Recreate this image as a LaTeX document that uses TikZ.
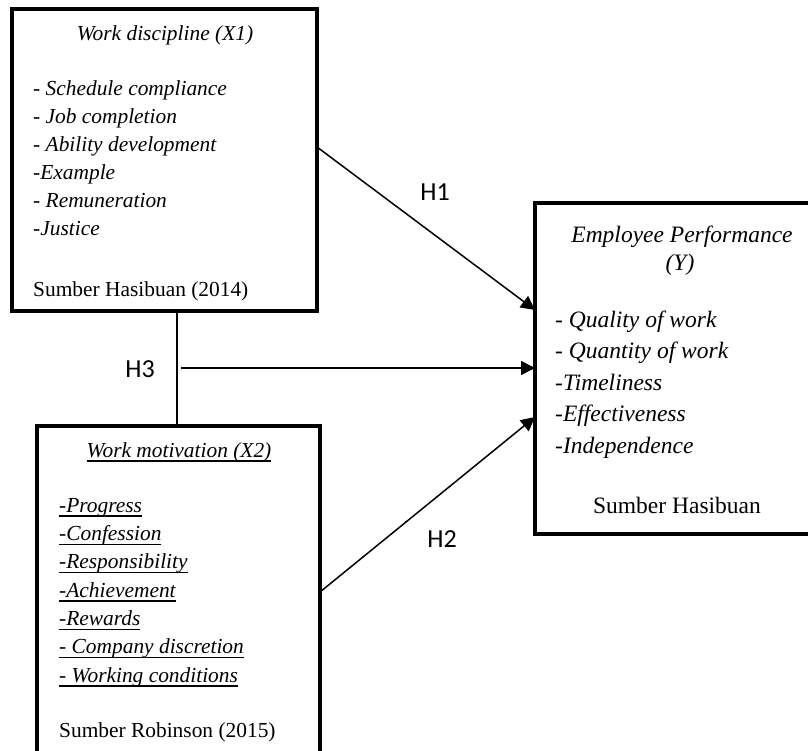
\documentclass[tikz,border=0pt]{standalone}
\usepackage{fontspec}
\setmainfont{Liberation Serif}
\newfontfamily\calibri{Carlito}
\usetikzlibrary{arrows.meta}
\newcommand\myul[1]{\setbox0\hbox{#1}\rlap{\usebox0}\rule[-4.5pt]{\wd0}{1.1pt}}
\tikzset{
  box/.style={draw, line width=4.5pt, rectangle, inner sep=0pt, outer sep=0pt},
  arr/.style={line width=1.5pt, -{Triangle[length=14pt,width=14pt]}},
  conn/.style={line width=1.5pt},
  xt/.style={inner sep=0pt, anchor=base west, font=\fontsize{21.4}{28}\selectfont\itshape},
  xtc/.style={inner sep=0pt, anchor=base, font=\fontsize{21.4}{28}\selectfont\itshape},
  src/.style={inner sep=0pt, anchor=base west, font=\fontsize{21.4}{28}\selectfont},
  yt/.style={inner sep=0pt, anchor=base west, font=\fontsize{23.5}{30}\selectfont\itshape},
  ytc/.style={inner sep=0pt, anchor=base, font=\fontsize{23.5}{30}\selectfont\itshape},
  ysrc/.style={inner sep=0pt, anchor=base, font=\fontsize{23.5}{30}\selectfont},
  hl/.style={inner sep=0pt, font=\fontsize{26}{30}\selectfont\calibri},
}
\begin{document}
\begin{tikzpicture}[x=1pt,y=-1pt]
\useasboundingbox (0,0) rectangle (808,751);
\clip (0,0) rectangle (808,751);
\fill[white] (0,0) rectangle (808,751);
% boxes
\node[box, minimum width=305pt, minimum height=302pt] (x1) at (164.5,160) {};
\node[box, minimum width=283pt, minimum height=374pt] (x2) at (178.5,613) {};
\node[box, minimum width=300pt, minimum height=331pt] (y) at (685,368.5) {};
% X1 texts
\node[xtc] (x1t) at (165,41) {Work discipline (X1)};
\node[xt] (x1a) at (33,96) {- Schedule compliance};
\node[xt] (x1b) at (33,124) {- Job completion};
\node[xt] (x1c) at (33,152) {- Ability development};
\node[xt] (x1d) at (33,180) {-Example};
\node[xt] (x1e) at (33,208) {- Remuneration};
\node[xt] (x1f) at (33,236) {-Justice};
\node[src] (x1s) at (33,296) {Sumber Hasibuan (2014)};
% X2 texts
\node[xtc] (x2t) at (179,457) {\myul{Work motivation (X2)}};
\node[xt] (x2a) at (59,512) {\myul{-Progress}};
\node[xt] (x2b) at (59,540.3) {\myul{-Confession}};
\node[xt] (x2c) at (59,568.7) {\myul{-Responsibility}};
\node[xt] (x2d) at (59,597) {\myul{-Achievement}};
\node[xt] (x2e) at (59,625.3) {\myul{-Rewards}};
\node[xt] (x2f) at (59,653.7) {\myul{- Company discretion}};
\node[xt] (x2g) at (59,682) {\myul{- Working conditions}};
\node[src] (x2s) at (59,737) {Sumber Robinson (2015)};
% Y texts
\node[ytc] (yt1) at (682,243) {Employee Performance};
\node[ytc] (yt2) at (680,270) {(Y)};
\node[yt] (ya) at (555,327) {- Quality of work};
\node[yt] (yb) at (555,358.5) {- Quantity of work};
\node[yt] (yc) at (555,390) {-Timeliness};
\node[yt] (yd) at (555,421.5) {-Effectiveness};
\node[yt] (ye) at (555,453) {-Independence};
\node[ysrc] (ys) at (677,513) {Sumber Hasibuan};
% connectors
\draw[arr] ([yshift=13pt]x1.east) -- ([yshift=58.5pt]y.west);
\draw[arr] ([yshift=21pt]x2.east) -- ([yshift=-48.5pt]y.west);
\coordinate (vx) at (177,368);
\draw[conn] (vx |- x1.south) -- (vx |- x2.north);
\draw[arr] ([xshift=4pt]vx) -- (vx -| y.west);
% labels
\node[hl] (h1) at (435,192) {H1};
\node[hl] (h2) at (442,539) {H2};
\node[hl] (h3) at (140,369) {H3};
\end{tikzpicture}
\end{document}
